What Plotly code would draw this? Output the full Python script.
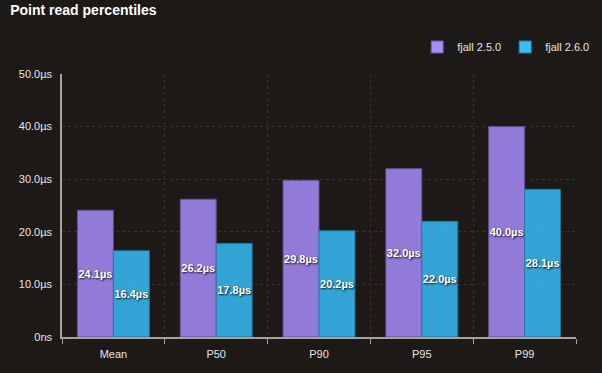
import plotly.graph_objects as go

categories = ["Mean", "P50", "P90", "P95", "P99"]
v250 = [24.1, 26.2, 29.8, 32.0, 40.0]
v260 = [16.4, 17.8, 20.2, 22.0, 28.1]
series_names = ["fjall 2.5.0", "fjall 2.6.0"]
y_tickvals = [0, 10, 20, 30, 40, 50]
y_ticktext = ["0ns", "10.0µs", "20.0µs", "30.0µs", "40.0µs", "50.0µs"]

BG = "#1c1917"
colors = ["#a78bfa", "#38bdf8"]
lines = ["#6d5aa8", "#2a7fae"]

fig = go.Figure()
for name, vals, c, lc in zip(series_names, [v250, v260], colors, lines):
    fig.add_trace(go.Bar(
        x=categories, y=vals, name=name,
        marker=dict(color=c, opacity=0.85, line=dict(color=lc, width=1)),
        text=[f"{v:.1f}µs" for v in vals],
        textposition="inside", insidetextanchor="middle", textangle=0,
        textfont=dict(color="white", size=11, family="Liberation Sans, Arial",
                      weight="bold", shadow="1px 1px 2px rgba(0,0,0,0.9)"),
        hoverinfo="skip",
    ))

fig.update_layout(
    width=602, height=373,
    paper_bgcolor=BG, plot_bgcolor=BG,
    barmode="group", bargap=0.3, bargroupgap=0,
    margin=dict(l=62, r=26, t=74, b=36, autoexpand=False),
    font=dict(family="Liberation Sans, Arial", color="#e7e5e4", size=11),
    uniformtext=dict(minsize=11, mode="show"),
    title=dict(text="<b>Point read percentiles</b>", x=0.017, xanchor="left",
               y=0.985, yanchor="top",
               font=dict(size=14, color="white", family="Liberation Sans, Arial")),
    legend=dict(orientation="h", xref="container", yref="container",
                x=0.693, xanchor="left", y=0.874, yanchor="middle",
                font=dict(size=11, color="#e7e5e4"), bgcolor="rgba(0,0,0,0)",
                itemwidth=30, traceorder="normal",
                entrywidth=43, entrywidthmode="pixels"),
    showlegend=True,
)
fig.update_xaxes(
    showline=True, linecolor="#a8a29e", linewidth=1.5,
    ticks="outside", tickson="boundaries", ticklen=5, tickcolor="#a8a29e",
    ticklabelstandoff=6,
    showgrid=True, gridcolor="#35312e", griddash="3px,3px", gridwidth=1,
    tickfont=dict(size=11, color="#e7e5e4"), automargin=False,
)
fig.update_yaxes(
    range=[0, 50], tickvals=y_tickvals, ticktext=y_ticktext,
    showline=True, linecolor="#a8a29e", linewidth=1.5,
    ticks="", ticklabelstandoff=6,
    showgrid=True, gridcolor="#35312e", griddash="3px,3px", gridwidth=1,
    zeroline=False, tickfont=dict(size=11, color="#e7e5e4"), automargin=False,
)

fig.write_html("out.html", config={"displayModeBar": False},
               post_script="document.body.style.margin='0';document.body.style.background='#1c1917';")
